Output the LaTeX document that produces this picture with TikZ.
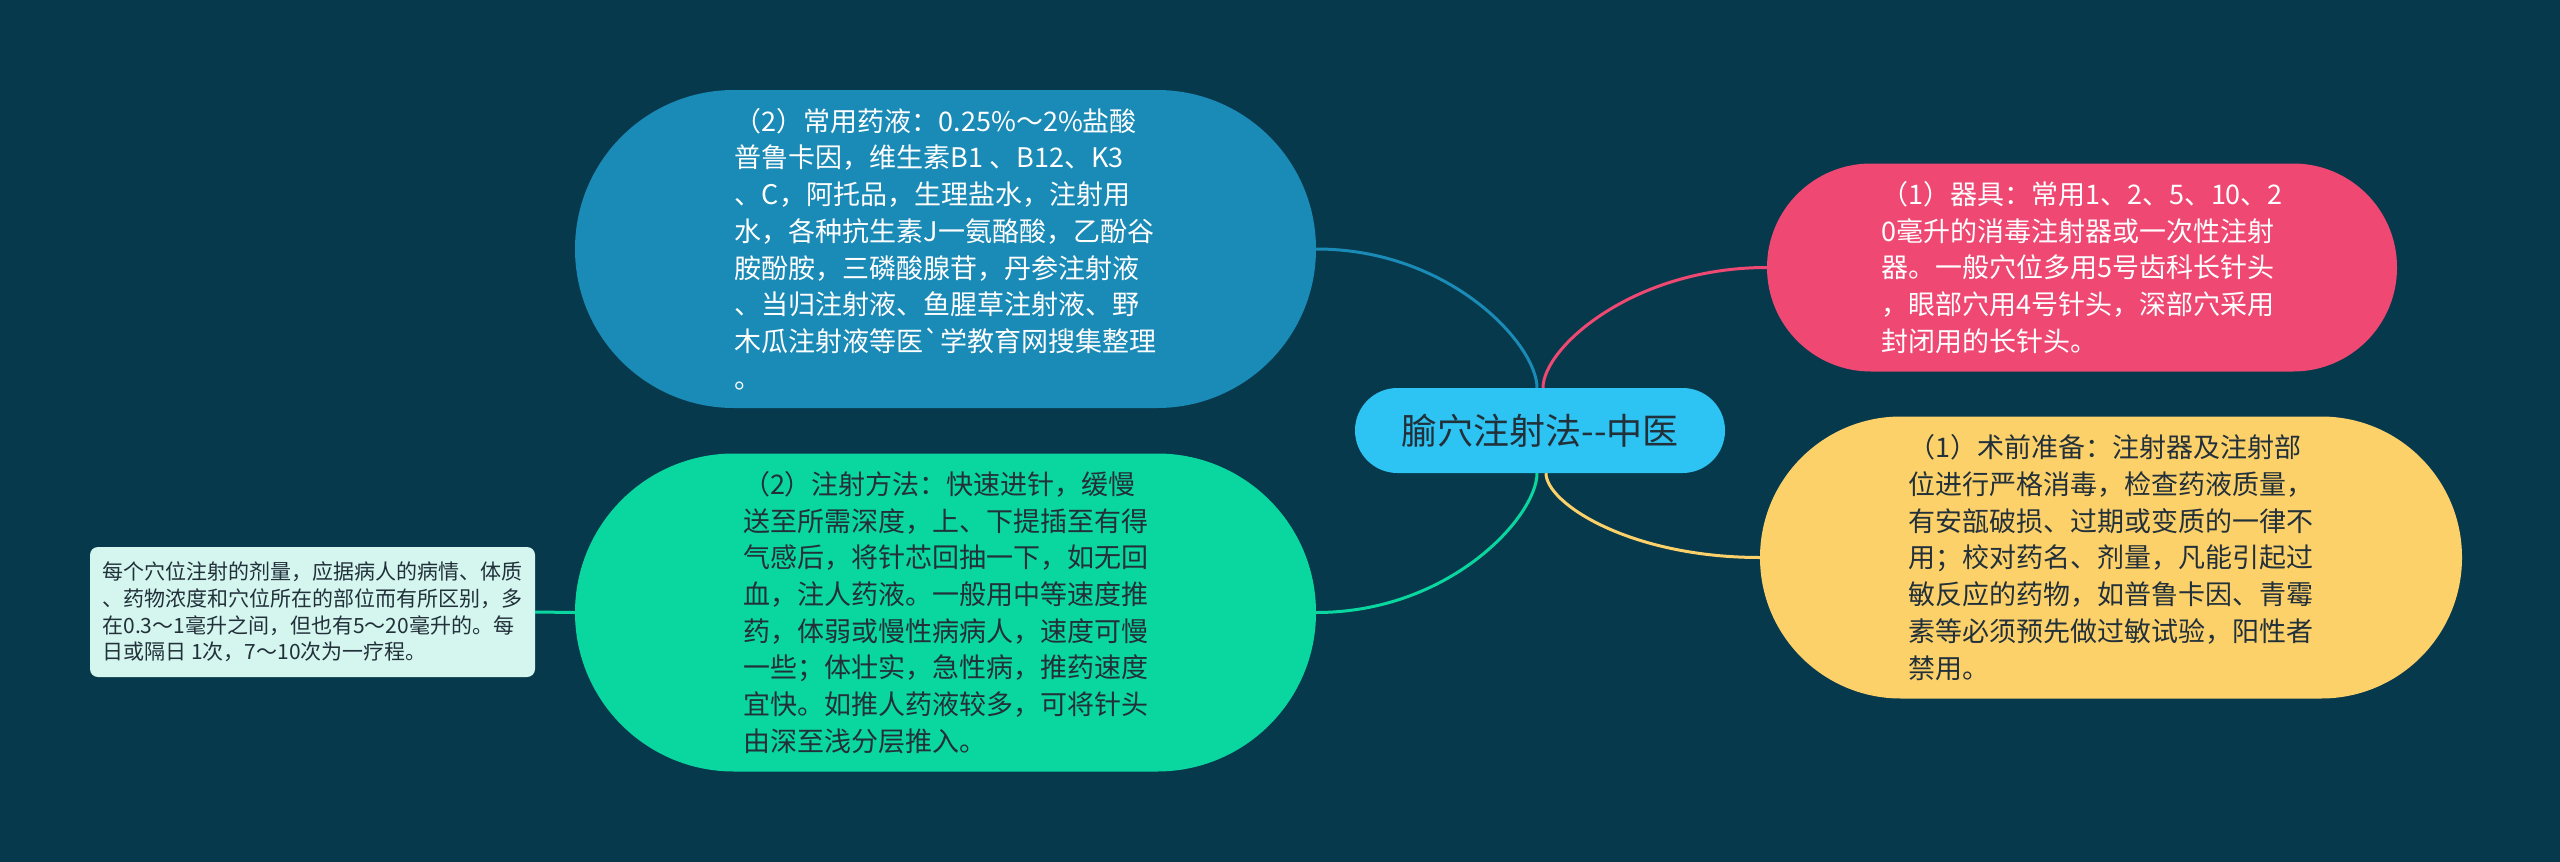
\documentclass[tikz,border=0pt]{standalone}
\usepackage{fontspec}
\defaultfontfeatures[\rmfamily]{}
\setmainfont{Noto Sans CJK SC}
\definecolor{bgc}{HTML}{07394C}
\definecolor{bluec}{HTML}{1A8AB6}
\definecolor{greenc}{HTML}{0AD69F}
\definecolor{pinkc}{HTML}{EE4873}
\definecolor{yellowc}{HTML}{FDD16A}
\definecolor{centerc}{HTML}{2DC4F3}
\definecolor{smallc}{HTML}{D4F6EF}
\definecolor{darktext}{HTML}{22303A}
\begin{document}
\begin{tikzpicture}[x=1pt,y=-1pt,
  bubble/.style={rectangle, inner sep=0pt, align=left},
  bigtext/.style={font=\fontsize{27}{36.7}\selectfont},
  conn/.style={line width=3pt}]
\fill[bgc] (0,0) rectangle (2560,862);
\useasboundingbox (0,0) rectangle (2560,862);

% central node
\node[bubble, fill=centerc, text=darktext, minimum width=370pt, minimum height=85pt,
  rounded corners=42.4pt, font=\fontsize{36}{40}\selectfont] (root) at (1540,430.5) {腧穴注射法-{}-中医};

% blue node
\node[bubble, bigtext, fill=bluec, text=white, minimum width=741pt, minimum height=318pt,
  rounded corners=158.9pt] (blue) at (945.5,249) {%
（2）常用药液：0.25\%～2\%盐酸\\
普鲁卡因，维生素B1 、B12、K3\\
、C，阿托品，生理盐水，注射用\\
水，各种抗生素J一氨酪酸，乙酚谷\\
胺酚胺，三磷酸腺苷，丹参注射液\\
、当归注射液、鱼腥草注射液、野\\
木瓜注射液等医\symbol{"60}学教育网搜集整理\\
。};

% green node
\node[bubble, bigtext, fill=greenc, text=darktext, minimum width=741pt, minimum height=318pt,
  rounded corners=158.9pt] (green) at (945.5,612.5) {%
（2）注射方法：快速进针，缓慢\\
送至所需深度，上、下提插至有得\\
气感后，将针芯回抽一下，如无回\\
血，注人药液。一般用中等速度推\\
药，体弱或慢性病病人，速度可慢\\
一些；体壮实，急性病，推药速度\\
宜快。如推人药液较多，可将针头\\
由深至浅分层推入。};

% pink node
\node[bubble, bigtext, fill=pinkc, text=white, minimum width=630pt, minimum height=208pt,
  rounded corners=103.9pt] (pink) at (2082,267.5) {%
（1）器具：常用1、2、5、10、2\\
0毫升的消毒注射器或一次性注射\\
器。一般穴位多用5号齿科长针头\\
，眼部穴用4号针头，深部穴采用\\
封闭用的长针头。};

% yellow node
\node[bubble, bigtext, fill=yellowc, text=darktext, minimum width=702pt, minimum height=282pt,
  rounded corners=140.9pt] (yellow) at (2111,557.5) {%
（1）术前准备：注射器及注射部\\
位进行严格消毒，检查药液质量，\\
有安瓿破损、过期或变质的一律不\\
用；校对药名、剂量，凡能引起过\\
敏反应的药物，如普鲁卡因、青霉\\
素等必须预先做过敏试验，阳性者\\
禁用。};

% small node
\node[bubble, fill=smallc, text=darktext, minimum width=445pt, minimum height=130pt,
  rounded corners=8pt, font=\fontsize{21}{26.7}\selectfont] (small) at (312.5,612) {%
每个穴位注射的剂量，应据病人的病情、体质\\
、药物浓度和穴位所在的部位而有所区别，多\\
在0.3～1毫升之间，但也有5～20毫升的。每\\
日或隔日 1次，7～10次为一疗程。};

% connectors
\draw[conn, bluec] (blue.east) .. controls +(134,0) and +(0,-43) .. ([xshift=-3pt]root.north);
\draw[conn, pinkc] ([xshift=3pt]root.north) .. controls +(0,-40) and +(-134,0) .. (pink.west);
\draw[conn, yellowc] ([xshift=6pt]root.south) .. controls +(0,30) and +(-130,0) .. (yellow.west);
\draw[conn, greenc] ([xshift=-3pt]root.south) .. controls +(0,43) and +(134,0) .. (green.east);
\draw[conn, greenc] (small.east) -- (green.west);
\end{tikzpicture}
\end{document}
